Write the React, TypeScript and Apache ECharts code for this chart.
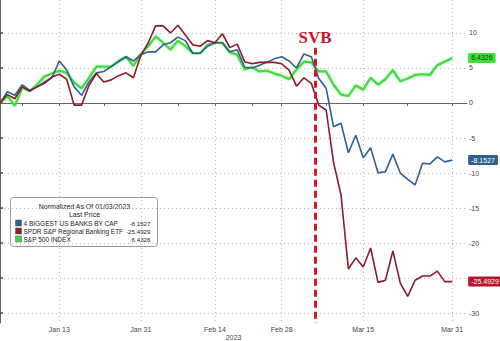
import React, { useEffect, useRef } from "react";
import * as echarts from "echarts";

const dates: string[] = [
  "Jan 3","Jan 4","Jan 5","Jan 6","Jan 9","Jan 10","Jan 11","Jan 12","Jan 13","Jan 17",
  "Jan 18","Jan 19","Jan 20","Jan 23","Jan 24","Jan 25","Jan 26","Jan 27","Jan 30","Jan 31",
  "Feb 1","Feb 2","Feb 3","Feb 6","Feb 7","Feb 8","Feb 9","Feb 10","Feb 13","Feb 14",
  "Feb 15","Feb 16","Feb 17","Feb 21","Feb 22","Feb 23","Feb 24","Feb 27","Feb 28",
  "Mar 1","Mar 2","Mar 3","Mar 6","Mar 7","Mar 8","Mar 9","Mar 10","Mar 13","Mar 14","Mar 15",
  "Mar 16","Mar 17","Mar 20","Mar 21","Mar 22","Mar 23","Mar 24","Mar 27","Mar 28","Mar 29","Mar 30","Mar 31",
];
const padCategories: string[] = ["", ""];
const labelDates: string[] = ["Jan 13", "Jan 31", "Feb 14", "Feb 28", "Mar 15", "Mar 31"];
const minorTickDates: string[] = ["Jan 6", "Jan 24", "Feb 7", "Feb 22", "Mar 8", "Mar 23"];

const bigBanks: number[] = [
  0, 1.6, 1.1, 2.6, 1.8, 2.3, 3.0, 3.6, 6.0, 4.7,
  2.3, 1.1, 3.0, 4.3, 4.5, 5.2, 5.9, 6.6, 6.0, 6.9,
  7.3, 7.3, 8.3, 8.6, 9.4, 8.9, 7.1, 7.1, 8.1, 8.6,
  8.6, 7.3, 7.6, 5.1, 5.0, 5.4, 5.8, 6.3, 6.6, 6.0,
  5.0, 7.0, 6.6, 3.5, 2.1, -3.4, -2.9, -7.1, -4.6, -7.8,
  -6.4, -10.0, -9.8, -7.3, -10.0, -10.9, -11.7, -8.6, -8.7, -7.7,
  -8.4, -8.1527,
];
const regionalBanks: number[] = [
  0, 1.2, 0.6, 2.3, 1.7, 2.3, 2.8, 3.7, 4.1, 3.4,
  -0.3, -0.3, 2.5, 4.2, 3.0, 3.3, 3.9, 4.3, 3.6, 6.8,
  8.6, 11.0, 11.0, 10.0, 11.1, 9.7, 8.3, 8.1, 8.9, 8.6,
  9.9, 7.9, 8.4, 5.9, 5.6, 5.8, 5.8, 5.8, 5.6, 4.7,
  2.4, 3.6, 2.8, -0.3, -1.0, -8.5, -13.1, -23.7, -22.1, -23.4,
  -20.7, -25.6, -25.3, -21.1, -25.7, -27.6, -25.3, -24.7, -24.7, -24.0,
  -25.5, -25.4929,
];
const sp500: number[] = [
  0, 1.0, -0.4, 2.2, 1.7, 2.6, 3.8, 4.2, 4.6, 4.3,
  2.9, 2.1, 3.6, 5.2, 5.2, 5.2, 6.0, 6.6, 5.3, 7.0,
  8.1, 9.5, 8.6, 7.6, 8.9, 8.1, 7.1, 7.1, 8.3, 8.6,
  8.6, 7.2, 6.9, 4.8, 5.1, 4.5, 4.6, 4.2, 3.9, 3.4,
  4.8, 5.9, 5.8, 4.5, 4.5, 2.6, 1.2, 1.0, 2.5, 1.9,
  3.6, 2.6, 3.4, 4.7, 3.1, 3.5, 4.0, 4.1, 4.0, 5.4,
  5.9, 6.4326,
];

const seriesNames: string[] = [
  "4 BIGGEST US BANKS BY CAP",
  "SPDR S&P Regional Banking ETF",
  "S&P 500 INDEX",
];
const seriesColors: string[] = ["#2f5f8e", "#8c1a2c", "#3ede3a"];
const tagColors: string[] = ["#2f5f8e", "#b3162d", "#3ede3a"];
const tagTextColors: string[] = ["#ffffff", "#ffffff", "#0d3d0d"];
const seriesData: number[][] = [bigBanks, regionalBanks, sp500];

const svbPosition: number = 42.5; // between Mar 6 and Mar 7 (category index)
const svbTop: number = 7.9;
const yMin = -31.4;
const yMax = 14.7;

const FONT = "Liberation Sans, Arial, sans-serif";

export default function App() {
  const ref = useRef<HTMLDivElement>(null);
  useEffect(() => {
    if (!ref.current) return;
    const chart = echarts.init(ref.current, undefined, { renderer: "svg" });
    const categories = [...dates, ...padCategories];
    const labelSet = new Set(labelDates);
    const tickSet = new Set([...labelDates, ...minorTickDates]);
    const lastValues = seriesData.map((d) => d[d.length - 1]);

    const lineSeries = seriesData.map((d, i) => ({
      type: "line",
      name: seriesNames[i],
      data: d,
      showSymbol: false,
      symbol: "none",
      z: i === 2 ? 2 : 3,
      lineStyle: {
        color: seriesColors[i],
        width: i === 2 ? 2.2 : 1.6,
        ...(i === 2 ? { shadowColor: "rgba(60,220,60,0.5)", shadowBlur: 2 } : {}),
      },
      itemStyle: { color: seriesColors[i] },
      endLabel: {
        show: true,
        formatter: (p: any) => Number(p.value).toFixed(4),
        backgroundColor: tagColors[i],
        color: tagTextColors[i],
        fontSize: 7,
        fontFamily: FONT,
        padding: [2, 3, 1, 3],
        borderRadius: 1,
        distance: 16,
      },
    }));

    const legendRows = seriesNames.map((n, i) => {
      const y = 25.5 + i * 8;
      return [
        {
          type: "rect",
          shape: { x: 5, y: y - 3, width: 6, height: 6 },
          style: { fill: seriesColors[i], stroke: "#555", lineWidth: 0.5 },
        },
        {
          type: "text",
          style: {
            text: n, x: 13, y, fill: "#222", fontSize: 6.5, fontFamily: FONT,
            align: "left", verticalAlign: "middle",
          },
        },
        {
          type: "text",
          style: {
            text: lastValues[i].toFixed(4), x: 140, y, fill: "#222", fontSize: 6.2, fontFamily: FONT,
            align: "right", verticalAlign: "middle",
          },
        },
      ];
    }).flat();

    chart.setOption({
      animation: false,
      textStyle: { fontFamily: FONT },
      grid: { left: 0, right: 33, top: 0, bottom: 18, containLabel: false, outerBoundsMode: "none" },
      xAxis: [
        {
          type: "category",
          data: categories,
          boundaryGap: false,
          axisLine: { show: true, lineStyle: { color: "#666", width: 1 } },
          axisTick: {
            show: true,
            length: 3,
            interval: (_i: number, v: string) => tickSet.has(v),
            lineStyle: { color: "#666" },
          },
          axisLabel: {
            interval: (_i: number, v: string) => labelSet.has(v),
            fontSize: 7,
            color: "#444",
            margin: 3,
            fontFamily: FONT,
          },
          splitLine: {
            show: true,
            interval: (_i: number, v: string) => labelSet.has(v),
            lineStyle: { color: "#bdbdbd", type: [1, 3], width: 1 },
          },
          name: "2023",
          nameLocation: "middle",
          nameGap: 10.5,
          nameMoveOverlap: false,
          nameTextStyle: { fontSize: 7, color: "#444", fontFamily: FONT },
        },
        { type: "value", min: 0, max: categories.length - 1, show: false },
      ],
      yAxis: {
        type: "value",
        position: "right",
        min: yMin,
        max: yMax,
        splitNumber: 9,
        minInterval: 5,
        maxInterval: 5,
        axisLine: { show: true, lineStyle: { color: "#666", width: 1 } },
        axisTick: { show: true, length: 3, lineStyle: { color: "#444", width: 1.5 } },
        axisLabel: {
          fontSize: 7,
          color: "#444",
          margin: 2,
          fontFamily: FONT,
          showMinLabel: false,
          showMaxLabel: false,
          // a price tag covers the tick label that lies under it
          formatter: (v: number) =>
            lastValues.some((lv) => Math.abs(lv - v) < 1.4) ? "" : String(v),
        },
        splitLine: {
          show: true,
          showMinLine: false,
          showMaxLine: false,
          lineStyle: { color: "#bdbdbd", type: [1, 3], width: 1 },
        },
      },
      series: [
        ...lineSeries,
        {
          type: "line",
          xAxisIndex: 1,
          yAxisIndex: 0,
          data: [],
          z: 5,
          markLine: {
            silent: true,
            symbol: ["none", "none"],
            animation: false,
            lineStyle: { color: "#d6182c", type: [7, 4], width: 3 },
            label: {
              show: true,
              position: "start",
              formatter: "SVB",
              fontFamily: "Liberation Serif, DejaVu Serif, serif",
              fontWeight: "bold",
              fontSize: 17,
              color: "#c8142b",
              distance: 2,
            },
            data: [[{ xAxis: svbPosition, yAxis: svbTop }, { xAxis: svbPosition, yAxis: yMin }]],
          },
        },
      ],
      graphic: [
        {
          type: "group",
          left: 10,
          top: 197,
          children: [
            {
              type: "rect",
              shape: { x: 0, y: 0, width: 147, height: 49, r: 3 },
              style: { fill: "#ffffff", stroke: "#9a9a9a", lineWidth: 1 },
            },
            {
              type: "text",
              style: {
                text: "Normalized As Of 01/03/2023", x: 74, y: 8.5, fill: "#222", fontSize: 7,
                fontFamily: FONT, align: "center", verticalAlign: "middle",
              },
            },
            {
              type: "text",
              style: {
                text: "Last Price", x: 74, y: 17, fill: "#222", fontSize: 7,
                fontFamily: FONT, align: "center", verticalAlign: "middle",
              },
            },
            ...legendRows,
          ],
        },
      ],
    });
    return () => chart.dispose();
  }, []);
  return <div ref={ref} style={{ width: 500, height: 341, position: "absolute", left: 0, top: 0 }} />;
}
